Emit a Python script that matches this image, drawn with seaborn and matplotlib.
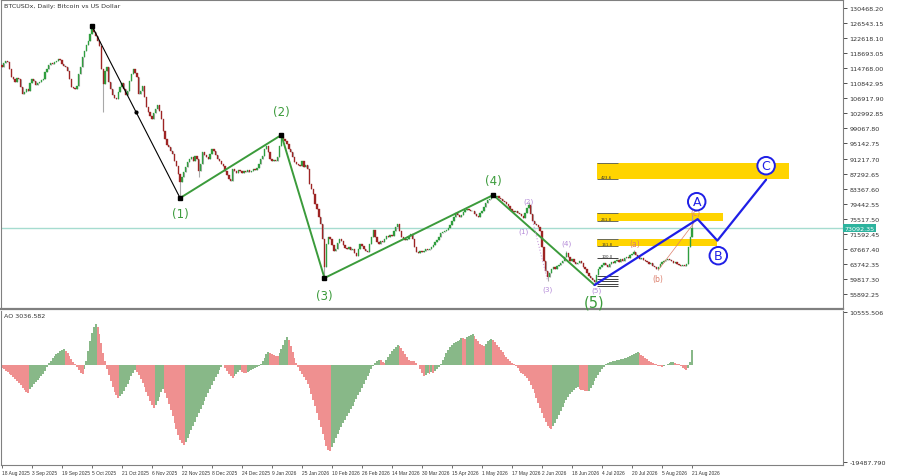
import numpy as np
import pandas as pd
import matplotlib
matplotlib.use("Agg")
import matplotlib.pyplot as plt
import matplotlib.transforms as mtransforms
import seaborn as sns

# ==========================================
# 0. data (BTCUSDx daily)
# ==========================================
first_open = 115600
closes = [
    115100, 116100, 116600, 116400, 114600, 112500, 112000, 111200, 112200, 112000,  # d0
    109900, 108000, 108600, 109300, 108800, 110900, 112000, 111400, 110400, 110900,  # d10
    111200, 111700, 112000, 113800, 114600, 115600, 116100, 115900, 116400, 116600,  # d20
    117200, 116900, 115900, 115300, 115100, 114000, 112000, 109900, 109600, 109300,  # d30
    110100, 113300, 115100, 117700, 119300, 120800, 121900, 123700, 125000, 124200,  # d40
    123200, 121900, 120600, 114600, 110600, 114000, 115100, 111200, 109300, 107800,  # d50
    107000, 106700, 108600, 109900, 110900, 109300, 107800, 108800, 111400, 113300,  # d60
    114600, 113500, 112500, 108000, 108800, 110100, 107300, 104600, 103300, 102300,  # d70
    101500, 103100, 104100, 105200, 103600, 101500, 98400, 96300, 94700, 94200,      # d80
    93200, 92400, 90600, 89300, 87200, 85100, 86400, 87700, 89000, 90300,            # d90
    91100, 91600, 90600, 91900, 91100, 88000, 89800, 92900, 92100, 91600,            # d100
    91100, 92400, 93700, 93200, 92100, 91100, 90600, 89800, 89300, 88000,            # d110
    86900, 85900, 85300, 88500, 88000, 87400, 88200, 88000, 87400, 88000,            # d120
    87700, 88200, 87700, 88000, 88500, 88200, 88700, 89800, 91100, 91900,            # d130
    93700, 94500, 92900, 91100, 90600, 90800, 90600, 91600, 94500, 96800,            # d140
    96300, 95800, 95000, 93700, 92900, 91600, 90300, 89800, 89500, 89300,            # d150
    90600, 89000, 89500, 88500, 84600, 83300, 82000, 79400, 78000, 76000,            # d160
    74100, 70200, 62900, 68900, 70700, 70200, 68700, 67100, 67600, 69200,            # d170
    70200, 69700, 68700, 67900, 67600, 68100, 67400, 67600, 66600, 65800,            # d180
    67600, 68900, 68400, 67600, 67100, 66800, 68900, 70700, 72600, 70700,            # d190
    69400, 68900, 69700, 69400, 70200, 71000, 70700, 71300, 71000, 72300,            # d200
    73400, 74100, 72300, 70700, 70200, 70000, 70200, 71000, 71500, 70200,            # d210
    68100, 66800, 66600, 67100, 66800, 67100, 67600, 67400, 67600, 68100,            # d220
    68700, 69400, 70000, 70700, 71800, 72000, 72300, 72600, 73100, 73900,            # d230
    74900, 76000, 77000, 76500, 76000, 76500, 77300, 77800, 78000, 77800,            # d240
    77500, 77500, 76700, 76200, 76000, 77000, 77500, 78600, 79600, 80400,            # d250
    80700, 81200, 81400, 81200, 81400, 80900, 80700, 80100, 79900, 79400,            # d260
    78800, 78000, 77500, 77300, 77500, 77000, 76700, 76200, 75700, 77000,            # d270
    78300, 79100, 76700, 74900, 74100, 73900, 73400, 72300, 68100, 64500,            # d280
    61900, 60300, 61400, 62400, 62900, 62400, 63200, 63400, 64000, 64500,            # d290
    65500, 66600, 65500, 64500, 65000, 64200, 63700, 64000, 64500, 64000,            # d300
    62900, 62400, 61400, 60600, 60100, 59500, 59000, 60800, 62400, 62900,            # d310
    63400, 64000, 63400, 62900, 63700, 64200, 64000, 64500, 64800, 64200,            # d320
    65000, 64500, 65300, 65500, 65300, 66100, 66300, 66800, 66100, 65500,            # d330
    65000, 65300, 64800, 64500, 64200, 63700, 64000, 63200, 62900, 62400,            # d340
    62900, 63700, 64200, 64500, 64800, 65000, 64800, 64500, 64000, 64200,            # d350
    63700, 63400, 63200, 63400, 63200, 63700, 68100, 70700, 73092,                   # d360
]
# only the long shadows that stand out on the chart
wick_high = {48: 125800, 149: 97300, 262: 82000, 281: 79900, 301: 67100, 337: 67400, 368: 76500}
wick_low = {54: 103300, 95: 80900, 105: 86400, 172: 60100, 291: 59300, 316: 58200, 350: 62100}

ao_values = [
    -600, -900, -1200, -1500, -1800, -2100, -2400, -2800, -3200, -3600,
    -4100, -4600, -5100, -5500, -5600, -4900, -4400, -3900, -3500, -3100,
    -2700, -2300, -1800, -1200, -500, 300, 800, 1300, 1700, 2100,
    2400, 2700, 2900, 3050, 2800, 2300, 1800, 1200, 600, 100,
    -500, -1100, -1600, -1900, -900, 800, 2800, 4700, 6300, 7600,
    8100, 7500, 6100, 4300, 2400, 700, -800, -2100, -3300, -4400,
    -5400, -6100, -6600, -6300, -5800, -5200, -4500, -3800, -3000, -2300,
    -1600, -1000, -1400, -2000, -2800, -3600, -4500, -5400, -6300, -7200,
    -8000, -8600, -8100, -7300, -6400, -5500, -4900, -5600, -6600, -7800,
    -9000, -10300, -11600, -12900, -14000, -15000, -15700, -16000, -15400, -14700,
    -13900, -13100, -12300, -11400, -10500, -9700, -8800, -8000, -7200, -6400,
    -5600, -4800, -4000, -3200, -2500, -1800, -1100, -500, -150, -600,
    -1200, -1800, -2300, -2600, -2200, -1800, -1400, -1100, -1400, -1600,
    -1650, -1500, -1300, -1100, -900, -700, -450, -200, 150, 700,
    1400, 2100, 2550, 2400, 2150, 1950, 1800, 1700, 2300, 3100,
    4000, 4900, 5450, 4900, 3800, 2600, 1400, 400, -500, -1200,
    -1800, -2400, -3000, -3800, -4700, -5800, -7000, -8300, -9700, -11100,
    -12500, -13800, -15000, -16200, -17000, -17300, -16500, -15600, -14700, -13900,
    -13100, -12400, -11700, -11000, -10300, -9600, -8900, -8200, -7500, -6800,
    -6100, -5400, -4700, -3900, -3100, -2300, -1600, -900, -300, 300,
    700, 1000, 850, 500, 400, 900, 1500, 2100, 2700, 3200,
    3600, 3850, 3700, 3300, 2800, 2200, 1500, 1000, 800, 700,
    650, 400, -100, -800, -1600, -2200, -2000, -1700, -1850, -1500,
    -1600, -1200, -800, -400, 200, 900, 1600, 2300, 3000, 3500,
    3900, 4300, 4600, 4800, 5000, 5300, 5250, 5100, 5500, 5800,
    6000, 6100, 5700, 5200, 4700, 4200, 3900, 3750, 4200, 4700,
    5000, 5100, 4900, 4500, 4000, 3500, 3000, 2500, 2000, 1500,
    1100, 700, 400, 100, -200, -700, -1200, -1600, -1900, -2200,
    -2700, -3300, -4000, -4800, -5700, -6700, -7700, -8700, -9700, -10600,
    -11500, -12200, -12700, -12950, -12300, -11600, -10800, -10000, -9200, -8400,
    -7700, -7000, -6400, -5900, -5400, -5000, -4700, -4550, -4800, -5000,
    -5150, -5250, -5300, -5280, -4700, -4000, -3300, -2600, -2000, -1400,
    -900, -400, 50, 300, 500, 600, 700, 800, 900, 1000,
    1100, 1200, 1250, 1400, 1500, 1700, 1900, 2200, 2400, 2550,
    2300, 2000, 1700, 1400, 1100, 800, 600, 400, 200, 50,
    -200, -350, -400, -300, -100, 200, 350, 500, 550, 400,
    200, 50, -300, -600, -900, -1050, -700, 500, 3037,
]
ao_label = "AO 3036.582"

date_labels = ["18 Aug 2025", "3 Sep 2025", "19 Sep 2025", "5 Oct 2025", "21 Oct 2025",
               "6 Nov 2025", "22 Nov 2025", "8 Dec 2025", "24 Dec 2025", "9 Jan 2026",
               "25 Jan 2026", "10 Feb 2026", "26 Feb 2026", "14 Mar 2026", "30 Mar 2026",
               "15 Apr 2026", "1 May 2026", "17 May 2026", "2 Jun 2026", "18 Jun 2026",
               "4 Jul 2026", "20 Jul 2026", "5 Aug 2026", "21 Aug 2026"]
date_label_every = 16

# Elliott wave pivots (day index, price)
wave_days = [95, 149, 172, 262, 316]
wave_prices = [80916, 97346, 60052, 81698, 58226]
wave_names = ["(1)", "(2)", "(3)", "(4)", "(5)"]
wave_label_prices = [76744, 103605, 55610, 85350, 53700]
trend_days = [48, 95]
trend_prices = [125774, 80916]
sub_names = ["(1)", "(2)", "(3)", "(4)", "(5)"]
sub_days = [278, 281, 291, 301, 317]
sub_prices = [72309, 80220, 57269, 69180, 56900]
abc_names = ["(a)", "(b)", "(c)"]
abc_days = [337.6, 350, 370]
abc_prices = [68924, 60052, 77005]
proj_days = [316, 371, 381.5, 407.5]
proj_prices = [58226, 75400, 69800, 85700]
circle_names = ["A", "B", "C"]
circle_days = [370.5, 382, 407.5]
circle_prices = [79950, 65870, 89340]

fib_start = 317.5
fib_names = ["423.6", "261.8", "161.8"]
fib_ends = [419.5, 384.5, 381.5]
fib_lo = [85871, 74912, 68392]
fib_hi = [90044, 76998, 70223]
fib_small_levels = [65268, 60573, 59921, 59269, 58617, 57965]

last_price = 73092.35
price_tick_base, price_tick_step = 55892.25, 3925.05
ao_tick_values = [10555.506, -19487.790]

# ==========================================
# 1. figure
# ==========================================
sns.set_theme(style="white")
plt.rcParams['font.family'] = ['DejaVu Sans']

bull, bear, wick_col = "#2f9e3f", "#9e2424", "#a8a8a8"
wave_green, blue, purple, salmon = "#3b9b3b", "#1f1fe6", "#b48ad8", "#dc7f6c"
gold, teal = "#ffd400", "#2db39e"

fig = plt.figure(figsize=(9.03, 4.77), dpi=100)
ax = fig.add_axes([1 / 903, 167 / 477, 842 / 903, 309 / 477])
ax2 = fig.add_axes([1 / 903, 11 / 477, 842 / 903, 154 / 477])

closes = np.array(closes, dtype=float)
days = np.arange(len(closes))
opens = np.concatenate([[first_open], closes[:-1]])
highs = np.maximum(opens, closes)
lows = np.minimum(opens, closes)
for d, v in wick_high.items():
    highs[d] = v
for d, v in wick_low.items():
    lows[d] = v

# fib bands behind everything
for lo, hi, end, name in zip(fib_lo, fib_hi, fib_ends, fib_names):
    ax.barh((lo + hi) / 2, end - fib_start, height=hi - lo, left=fib_start,
            color=gold, linewidth=0, zorder=1)
    ax.hlines([lo, hi], fib_start, fib_start + 11, color="#6b6b55", lw=0.7, zorder=2)
    ax.text(fib_start + 5, lo, name, fontsize=2.8, color="#333333", ha="center",
            va="bottom", zorder=3)
ax.hlines(fib_small_levels, fib_start, fib_start + 11, color="#222222", lw=0.6, zorder=2)
ax.text(fib_start + 5, fib_small_levels[0], "100.0", fontsize=2.8, color="#333333",
        ha="center", va="bottom", zorder=3)

ax.axhline(last_price, color="#a6dcd0", lw=1.0, zorder=1.5)

# candles
ax.vlines(days, lows, highs, color=wick_col, lw=0.8, zorder=3)
up = closes >= opens
ax.bar(days[up], (closes - opens)[up], bottom=opens[up], width=0.7, color=bull,
       edgecolor=bull, linewidth=0.25, zorder=4)
ax.bar(days[~up], (closes - opens)[~up], bottom=opens[~up], width=0.7, color=bear,
       edgecolor=bear, linewidth=0.25, zorder=4)

# wave structure
wave_df = pd.DataFrame({"day": wave_days, "price": wave_prices})
sns.lineplot(data=wave_df, x="day", y="price", sort=False, estimator=None,
             color=wave_green, lw=1.4, ax=ax, zorder=5)
ax.plot(trend_days, trend_prices, color="black", lw=0.8, zorder=5)
ax.plot(np.mean(trend_days), np.mean(trend_prices), "o", color="black", ms=2, zorder=6)
ax.plot(trend_days + wave_days[1:4], trend_prices + wave_prices[1:4], "s",
        color="black", ms=2.2, zorder=6, ls="none")
for d, p, n in zip(wave_days, wave_label_prices, wave_names):
    ax.text(d, p, n, color=wave_green, fontsize=10.5 if n == "(5)" else 8.5,
            ha="center", va="center", zorder=7)

ax.plot([283, 291], [74900, 59300], color="#c9a0dc", lw=0.8, ls=":", zorder=5)
for d, p, n in zip(sub_days, sub_prices, sub_names):
    ax.text(d, p, n, color=purple, fontsize=5.2, ha="center", va="center", zorder=8)

ax.plot([350, 369], [62140, 74400], color=salmon, lw=0.5, zorder=5)
for d, p, n in zip(abc_days, abc_prices, abc_names):
    ax.text(d, p, n, color=salmon, fontsize=5.5, ha="center", va="center", zorder=7)

proj_df = pd.DataFrame({"day": proj_days, "price": proj_prices})
sns.lineplot(data=proj_df, x="day", y="price", sort=False, estimator=None,
             color=blue, lw=1.6, ax=ax, zorder=6)
for d, p, n in zip(circle_days, circle_prices, circle_names):
    ax.text(d, p, n, color=blue, fontsize=9, ha="center", va="center", zorder=8,
            bbox=dict(boxstyle="circle,pad=0.18", fc="white", ec=blue, lw=1.4))

ax.set_xlim(-0.5, 448.5)
ax.set_ylim(51968, 132554)
ax.set_xlabel("")
ax.set_ylabel("")
ax.set_xticks([])
ax.yaxis.tick_right()
price_ticks = [price_tick_base + k * price_tick_step for k in range(20)]
ax.set_yticks(price_ticks)
ax.set_yticklabels([f"{v:.2f}" for v in price_ticks])
ax.tick_params(axis="y", labelsize=4.6, length=3, width=0.6, pad=1.5,
               colors="#333333", right=True, left=False)
for s in ["left", "top", "right"]:
    ax.spines[s].set_color("#808080")
    ax.spines[s].set_linewidth(0.8)
ax.spines["bottom"].set_color("#808080")
ax.spines["bottom"].set_linewidth(1.6)
ax.text(0.004, 0.99, "BTCUSDx, Daily: Bitcoin vs US Dollar", transform=ax.transAxes,
        fontsize=4.6, color="#333333", ha="left", va="top")
trans = mtransforms.blended_transform_factory(ax.transAxes, ax.transData)
ax.text(1.002, last_price, f"{last_price:.2f}", transform=trans, fontsize=4.6,
        color="white", ha="left", va="center", clip_on=False, zorder=10,
        bbox=dict(boxstyle="square,pad=0.2", fc=teal, ec="none"))

# ==========================================
# 2. AO histogram
# ==========================================
ao = np.array(ao_values, dtype=float)
ao_df = pd.DataFrame({"day": np.arange(len(ao)), "ao": ao,
                      "dir": np.where(np.diff(ao, prepend=ao[0]) > 0, "up", "down")})
sns.barplot(data=ao_df, x="day", y="ao", hue="dir", native_scale=True, width=1.0,
            palette={"up": "#80c080", "down": "#ff8080"}, dodge=False, errorbar=None,
            legend=False, linewidth=0, ax=ax2)
ax2.set_xlim(-0.5, 448.5)
ax2.set_ylim(-20089, 10756)
ax2.set_xlabel("")
ax2.set_ylabel("")
ax2.yaxis.tick_right()
ax2.set_yticks(ao_tick_values)
ax2.set_yticklabels([f"{v:.3f}" for v in ao_tick_values])
ax2.tick_params(axis="y", labelsize=4.6, length=3, width=0.6, pad=1.5,
                colors="#333333", right=True, left=False)
ax2.set_xticks(np.arange(len(date_labels)) * date_label_every)
ax2.set_xticklabels(date_labels, ha="left", family=["Liberation Sans", "DejaVu Sans"])
ax2.tick_params(axis="x", labelsize=3.5, length=2, width=0.5, pad=1.5,
                colors="#333333", bottom=True)
for s in ["left", "right", "bottom"]:
    ax2.spines[s].set_color("#808080")
    ax2.spines[s].set_linewidth(0.8)
ax2.spines["top"].set_visible(False)
ax2.text(0.004, 0.985, ao_label, transform=ax2.transAxes, fontsize=4.6,
         color="#333333", ha="left", va="top")

fig.savefig("out.png", dpi=100)
